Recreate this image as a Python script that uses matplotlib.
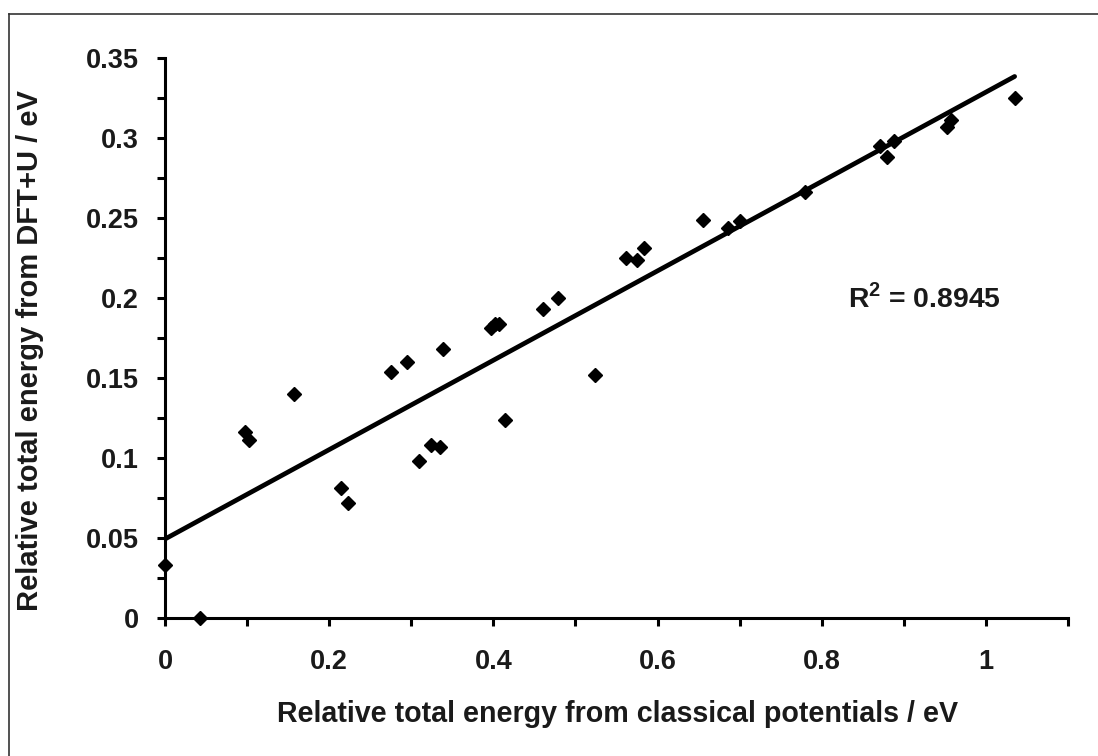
import numpy as np
import matplotlib
matplotlib.use("Agg")
import matplotlib.pyplot as plt
from matplotlib.ticker import MultipleLocator
from matplotlib.lines import Line2D

# relative energies (eV)
e_classical = [0.000, 0.043, 0.097, 0.102, 0.157, 0.215, 0.223, 0.275, 0.295, 0.309,
               0.324, 0.335, 0.339, 0.397, 0.402, 0.407, 0.414, 0.461, 0.479, 0.524,
               0.562, 0.575, 0.584, 0.655, 0.686, 0.700, 0.780, 0.871, 0.880, 0.888,
               0.953, 0.958, 1.035]
e_dft = [0.033, 0.000, 0.116, 0.111, 0.140, 0.081, 0.072, 0.154, 0.160, 0.098,
         0.108, 0.107, 0.168, 0.181, 0.184, 0.184, 0.124, 0.193, 0.200, 0.152,
         0.225, 0.224, 0.231, 0.249, 0.244, 0.248, 0.266, 0.295, 0.288, 0.298,
         0.307, 0.311, 0.325]
r2_text = "R$^{\\mathbf{2}}$ = 0.8945"

plt.rcParams['font.family'] = ['Liberation Sans', 'DejaVu Sans']
plt.rcParams['mathtext.fontset'] = 'custom'
plt.rcParams['mathtext.bf'] = 'Liberation Sans:bold'
plt.rcParams['mathtext.rm'] = 'Liberation Sans:bold'

fig = plt.figure(figsize=(10.98, 7.56), dpi=100)
ax = fig.add_axes([165/1098, 1-618/756, (1068-165)/1098, (618-58)/756])

x = np.array(e_classical)
y = np.array(e_dft)
ax.plot(x, y, linestyle="none", marker="D", markersize=7.5, color="black",
        zorder=3, clip_on=False)

# linear trendline over the data range
slope, icpt = np.polyfit(x, y, 1)
xl = np.array([x.min(), x.max()])
ax.plot(xl, icpt + slope*xl, color="black", lw=3.4, solid_capstyle="round", zorder=2)

ax.set_xlim(0, 1.1)
ax.set_ylim(0, 0.35)
ax.xaxis.set_major_locator(MultipleLocator(0.2))
ax.xaxis.set_minor_locator(MultipleLocator(0.1))
ax.yaxis.set_major_locator(MultipleLocator(0.05))
ax.yaxis.set_minor_locator(MultipleLocator(0.025))
ax.xaxis.set_major_formatter(lambda v, p: "0" if abs(v) < 1e-9 else "%g" % round(v, 2))
ax.yaxis.set_major_formatter(lambda v, p: "0" if abs(v) < 1e-9 else "%g" % round(v, 3))

for s in ["top", "right"]:
    ax.spines[s].set_visible(False)
for s in ["left", "bottom"]:
    ax.spines[s].set_linewidth(2.2)
ax.tick_params(which="both", direction="out", length=6, width=2.2, color="black")
ax.tick_params(axis="x", which="major", labelsize=19.5, pad=16)
ax.tick_params(axis="y", which="major", labelsize=19.5, pad=13)
for lab in ax.get_xticklabels() + ax.get_yticklabels():
    lab.set_fontweight("bold")
    lab.set_color("#1a1a1a")

fig.text(618/1098, 1-714/756, "Relative total energy from classical potentials / eV",
         ha="center", va="center", fontsize=20.6, fontweight="bold", color="#1a1a1a")
fig.text(30/1098, 1-351/756, "Relative total energy from DFT+U / eV", rotation=90,
         ha="center", va="center", fontsize=21, fontweight="bold", color="#1a1a1a")
fig.text(848/1098, 1-298/756, r2_text, ha="left", va="center",
         fontsize=20.4, fontweight="bold", color="#1a1a1a")

# chart area border (only left and top edges are inside the picture)
fig.add_artist(Line2D([8.5/1098, 8.5/1098], [0, 1-14/756], color="#333333", lw=1.2))
fig.add_artist(Line2D([8.5/1098, 1], [1-14/756, 1-14/756], color="#333333", lw=1.2))

fig.savefig("out.png", dpi=100, facecolor="white")
